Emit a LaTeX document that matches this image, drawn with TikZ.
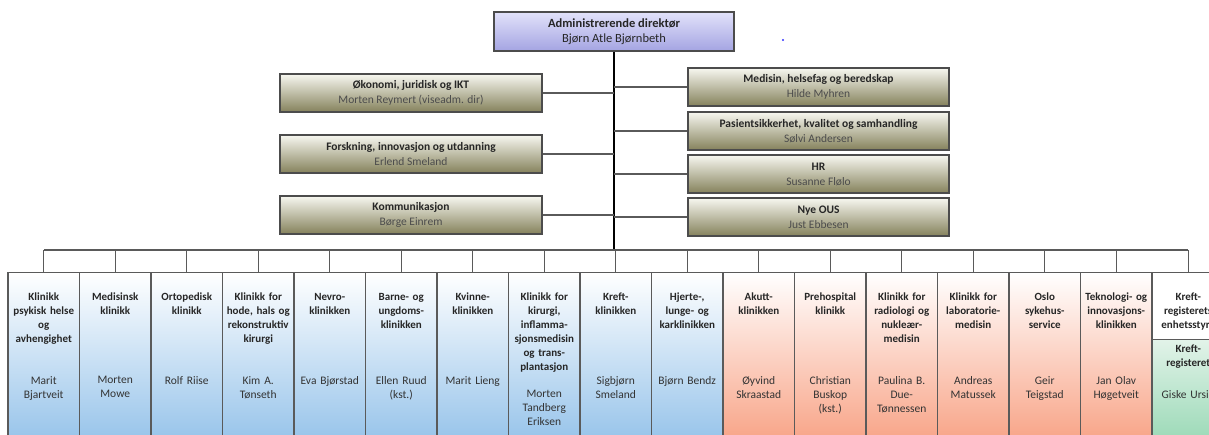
\documentclass[tikz,border=0pt]{standalone}
\usepackage{fontspec}
\setmainfont{Carlito}
\definecolor{lilatop}{HTML}{E2E2FA}
\definecolor{lilabot}{HTML}{A4A4E2}
\definecolor{olivetop}{HTML}{F7F7F0}
\definecolor{olivebot}{HTML}{85825C}
\definecolor{blaa}{HTML}{96C3EA}
\definecolor{laks}{HTML}{F8A386}
\definecolor{groenntop}{HTML}{E2F3E9}
\definecolor{groennbot}{HTML}{9AD9B6}
\definecolor{strek}{HTML}{5A5A5A}
\begin{document}
\begin{tikzpicture}[x=1pt,y=-1pt]
\tikzstyle{every node}=[inner sep=0pt, rectangle, font=\fontsize{11}{14}\selectfont, text=black!85]
\tikzstyle{sjef}=[draw=black!70, line width=1.2pt, minimum width=240pt, minimum height=39pt, top color=lilatop, bottom color=lilabot, align=center, font=\fontsize{12.5}{15.5}\selectfont]
\tikzstyle{stab}=[draw=black!70, line width=1.2pt, minimum width=262pt, minimum height=38pt, top color=olivetop, bottom color=olivebot, align=center, font=\fontsize{11.5}{15}\selectfont]
\tikzstyle{klinikk}=[draw=strek, line width=1.2pt, minimum width=71.5pt, minimum height=170pt, anchor=north, top color=white]
\tikzstyle{tittel}=[anchor=north, text width=70pt, align=center, font=\fontsize{11}{14}\selectfont\bfseries]
\tikzstyle{leder}=[anchor=north, text width=70pt, align=center, text=black!80, font=\fontsize{11.5}{14}\selectfont]
\tikzstyle{linje}=[draw=strek, line width=1.2pt]
\useasboundingbox (0,0) rectangle (1209,434);
\clip (0,0) rectangle (1209,434);

% toppledelse
\node (dir) [sjef] at (614,31.5) {\textbf{Administrerende direktør}\\Bjørn Atle Bjørnbeth};
\fill[blue!80] (783,40) circle (1.2);
\coordinate (bus) at (614,250);
\draw[line width=1.6pt] (dir) -- (bus);

% stab
\node (l1) [stab] at (411,93) {\textbf{Økonomi, juridisk og IKT}\\\textcolor{black!70}{Morten Reymert (viseadm. dir)}};
\node (l2) [stab] at (411,154) {\textbf{Forskning, innovasjon og utdanning}\\\textcolor{black!70}{Erlend Smeland}};
\node (l3) [stab] at (411,215) {\textbf{Kommunikasjon}\\\textcolor{black!70}{Børge Einrem}};
\node (r1) [stab, minimum width=261pt] at (818.5,87) {\textbf{Medisin, helsefag og beredskap}\\\textcolor{black!70}{Hilde Myhren}};
\node (r2) [stab, minimum width=261pt] at (818.5,131) {\textbf{Pasientsikkerhet, kvalitet og samhandling}\\\textcolor{black!70}{Sølvi Andersen}};
\node (r3) [stab, minimum width=261pt] at (818.5,174) {\textbf{HR}\\\textcolor{black!70}{Susanne Flølo}};
\node (r4) [stab, minimum width=261pt] at (818.5,217) {\textbf{Nye OUS}\\\textcolor{black!70}{Just Ebbesen}};
\foreach \s in {l1,l2,l3}
  \draw[linje] (\s.east) -- (\s.east -| bus);
\foreach \s in {r1,r2,r3,r4}
  \draw[linje] (\s.west) -- (\s.west -| bus);

% klinikker
\foreach \t/\n/\c/\y [count=\i] in {
  {Klinikk\\psykisk helse\\og\\avhengighet}/{Marit\\Bjartveit}/blaa/376,
  {Medisinsk\\klinikk}/{Morten\\Mowe}/blaa/376,
  {Ortopedisk\\klinikk}/{Rolf Riise}/blaa/376,
  {Klinikk for\\hode, hals og\\rekonstruktiv\\kirurgi}/{Kim A.\\Tønseth}/blaa/376,
  {Nevro-\\klinikken}/{Eva Bjørstad}/blaa/376,
  {Barne- og\\ungdoms-\\klinikken}/{Ellen Ruud\\(kst.)}/blaa/376,
  {Kvinne-\\klinikken}/{Marit Lieng}/blaa/376,
  {Klinikk for\\kirurgi,\\inflamma-\\sjonsmedisin\\og trans-\\plantasjon}/{Morten\\Tandberg\\Eriksen}/blaa/390,
  {Kreft-\\klinikken}/{Sigbjørn\\Smeland}/blaa/376,
  {Hjerte-,\\lunge- og\\karklinikken}/{Bjørn Bendz}/blaa/376,
  {Akutt-\\klinikken}/{Øyvind\\Skraastad}/laks/376,
  {Prehospital\\klinikk}/{Christian\\Buskop\\(kst.)}/laks/376,
  {Klinikk for\\radiologi og\\nukleær-\\medisin}/{Paulina B.\\Due-\\Tønnessen}/laks/376,
  {Klinikk for\\laboratorie-\\medisin}/{Andreas\\Matussek}/laks/376,
  {Oslo\\sykehus-\\service}/{Geir\\Teigstad}/laks/376,
  {Teknologi- og\\innovasjons-\\klinikken}/{Jan Olav\\Høgetveit}/laks/376}
{
  \node (k\i) [klinikk, bottom color=\c] at ({8+71.5*(\i-0.5)},272) {};
  \node (t\i) [tittel] at ({8+71.5*(\i-0.5)},293) {\t};
  \node (n\i) [leder] at ({8+71.5*(\i-0.5)},\y) {\n};
}
\node (k17) [klinikk, minimum height=67pt] at (1188.25,272) {};
\node (t17) [tittel] at (1188.25,293) {Kreft-\\registerets\\enhetsstyre};
\node (kr) [klinikk, minimum height=103pt, top color=groenntop, bottom color=groennbot] at (1188.25,339) {};
\node (tr) [tittel] at (1188.25,345) {Kreft-\\registeret};
\node (nr) [leder] at (1188.25,390) {Giske Ursin};

% samleskinne
\draw[linje] (k1.north |- bus) -- (k17.north |- bus);
\foreach \i in {1,...,17}
  \draw[linje] (k\i.north) -- (k\i.north |- bus);
\end{tikzpicture}
\end{document}
